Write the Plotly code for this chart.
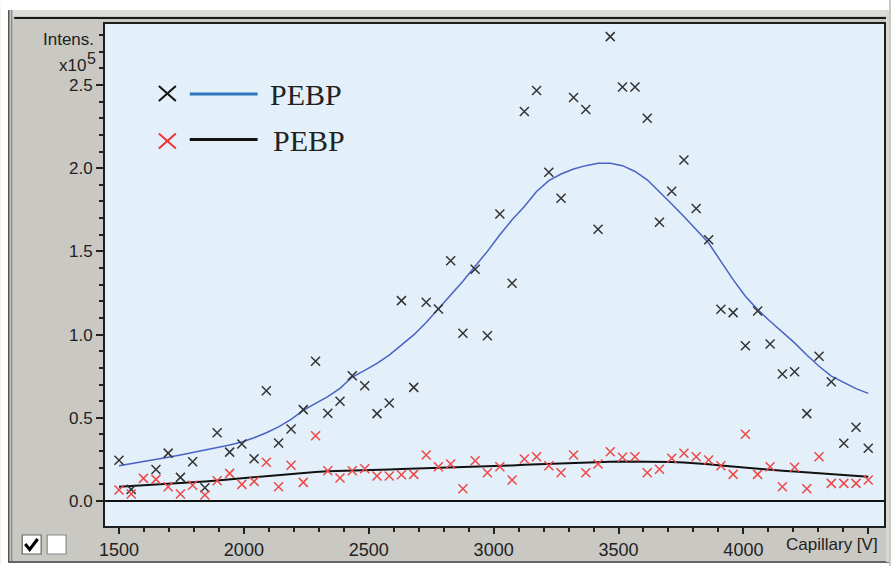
import plotly.graph_objects as go

# ---------------- data (intensity in units of 1e5) ----------------
capillary_v = [1500, 1549, 1598, 1648, 1697, 1746, 1795, 1844, 1893, 1943,
               1992, 2041, 2090, 2139, 2189, 2238, 2287, 2336, 2385, 2434,
               2484, 2533, 2582, 2631, 2680, 2730, 2779, 2828, 2877, 2926,
               2975, 3025, 3074, 3123, 3172, 3221, 3270, 3320, 3369, 3418,
               3467, 3516, 3566, 3615, 3664, 3713, 3762, 3811, 3861, 3910,
               3959, 4008, 4057, 4107, 4156, 4205, 4254, 4303, 4352, 4402,
               4451, 4500]

pebp_black = [0.245, 0.070, None, 0.190, 0.288, 0.142, 0.236, 0.080, 0.410, 0.294,
              0.343, 0.254, 0.663, 0.349, 0.433, 0.549, 0.840, 0.527, 0.599, 0.753,
              0.693, 0.525, 0.589, 1.204, 0.683, 1.194, 1.154, 1.444, 1.008, 1.392,
              0.993, 1.725, 1.308, 2.340, 2.466, 1.975, 1.819, 2.424, 2.352, 1.633,
              2.790, 2.488, 2.488, 2.300, 1.675, 1.861, 2.049, 1.757, 1.570, 1.152,
              1.132, 0.933, 1.142, 0.944, 0.763, 0.777, 0.525, 0.870, 0.717, 0.347,
              0.443, 0.317]

pebp_red = [0.066, 0.042, 0.136, 0.130, 0.086, 0.042, 0.095, 0.036, 0.122, 0.166,
            0.100, 0.118, 0.233, 0.086, 0.215, 0.112, 0.392, 0.182, 0.138, 0.182,
            0.194, 0.150, 0.150, 0.158, 0.160, 0.276, 0.206, 0.222, 0.074, 0.242,
            0.170, 0.206, 0.126, 0.252, 0.266, 0.212, 0.170, 0.276, 0.170, 0.222,
            0.296, 0.263, 0.266, 0.170, 0.191, 0.257, 0.287, 0.266, 0.246, 0.212,
            0.160, 0.401, 0.160, 0.206, 0.086, 0.203, 0.074, 0.266, 0.106, 0.106,
            0.106, 0.126]

fit_black_series = [0.212, 0.224, 0.236, 0.249, 0.263, 0.277, 0.291, 0.306, 0.321, 0.337,
                    0.355, 0.380, 0.410, 0.445, 0.490, 0.545, 0.587, 0.627, 0.677, 0.745,
                    0.785, 0.827, 0.877, 0.937, 0.998, 1.072, 1.154, 1.235, 1.320, 1.410,
                    1.500, 1.600, 1.690, 1.770, 1.860, 1.925, 1.965, 1.995, 2.015, 2.029,
                    2.029, 2.015, 1.980, 1.930, 1.860, 1.785, 1.710, 1.630, 1.550, 1.440,
                    1.330, 1.230, 1.150, 1.080, 1.015, 0.950, 0.877, 0.810, 0.750, 0.710,
                    0.675, 0.647]

fit_red_series = [0.086, 0.090, 0.094, 0.098, 0.103, 0.108, 0.113, 0.118, 0.124, 0.131,
                  0.138, 0.145, 0.152, 0.158, 0.164, 0.170, 0.175, 0.179, 0.182, 0.184,
                  0.186, 0.188, 0.190, 0.192, 0.194, 0.196, 0.198, 0.200, 0.202, 0.204,
                  0.207, 0.210, 0.214, 0.218, 0.221, 0.224, 0.227, 0.230, 0.233, 0.235,
                  0.236, 0.237, 0.237, 0.237, 0.236, 0.234, 0.231, 0.227, 0.221, 0.214,
                  0.207, 0.200, 0.194, 0.188, 0.182, 0.177, 0.172, 0.166, 0.160, 0.154,
                  0.149, 0.146]

x_tick_vals = [1500, 2000, 2500, 3000, 3500, 4000, 4500]
x_tick_text = ["1500", "2000", "2500", "3000", "3500", "4000", " "]
y_tick_vals = [0.0, 0.5, 1.0, 1.5, 2.0, 2.5]
y_tick_text = ["0.0", "0.5", "1.0", "1.5", "2.0", "2.5"]
legend_label = "PEBP"

# ---------------- layout geometry ----------------
W, H = 891, 566
ML, MR, MT, MB = 105, 5, 24, 40
PW, PH = W - ML - MR, H - MT - MB

def px(x):
    return (x - ML) / PW

def py(y):
    return (H - MB - y) / PH

GRAY = "#c9c8c3"
INK = "#222222"
SANS = "Liberation Sans, Arial, sans-serif"

fig = go.Figure()

fig.add_trace(go.Scatter(x=capillary_v, y=fit_black_series, mode="lines",
                         line=dict(color="#4a62c4", width=1.5), hoverinfo="skip"))
fig.add_trace(go.Scatter(x=capillary_v, y=fit_red_series, mode="lines",
                         line=dict(color="#111111", width=2), hoverinfo="skip"))
fig.add_trace(go.Scatter(x=capillary_v, y=pebp_black, mode="markers",
                         marker=dict(symbol="x-thin", size=9, color="#333333",
                                     line=dict(color="#333333", width=1.5))))
fig.add_trace(go.Scatter(x=capillary_v, y=pebp_red, mode="markers",
                         marker=dict(symbol="x-thin", size=9, color="#ee4848",
                                     line=dict(color="#ee4848", width=1.5))))

shapes = []

def rect(x0, y0, x1, y1, fill, line_color=None, lw=0):
    shapes.append(dict(type="rect", xref="paper", yref="paper",
                       x0=px(x0), x1=px(x1), y0=py(y1), y1=py(y0),
                       fillcolor=fill, line=dict(color=line_color or fill, width=lw),
                       layer="above"))

def seg(x0, y0, x1, y1, color, lw):
    shapes.append(dict(type="line", xref="paper", yref="paper",
                       x0=px(x0), x1=px(x1), y0=py(y0), y1=py(y1),
                       line=dict(color=color, width=lw), layer="above"))

# white page edges around the grey window panel
rect(0, 0, 8, H, "white")
rect(0, 0, W, 10, "white")
rect(0, 563, W, H, "white")
# window frame lines
rect(12, 10, W, 16, "#dddcd8")
seg(14, 18, W, 18, "#1a1a1a", 2)
seg(8.5, 10, 8.5, 562, "#555555", 1.5)
seg(11.5, 10, 11.5, 562, "#777777", 1)
seg(8, 562, W, 562, "#444444", 1.5)
rect(888, 10, W, 562, "#d8d7d3")

# checkboxes
rect(22, 535, 41, 554, "white", "#666666", 1.2)
shapes.append(dict(type="path", xref="paper", yref="paper",
                   path="M {:.5f},{:.5f} L {:.5f},{:.5f} L {:.5f},{:.5f}".format(
                       px(25), py(544), px(29.5), py(549.5), px(37.5), py(539)),
                   line=dict(color="black", width=3), layer="above"))
rect(47, 535, 66, 554, "white", "#888888", 1.2)

# legend symbols
seg(159, 86, 176, 101, "#111111", 2)
seg(159, 101, 176, 86, "#111111", 2)
seg(159, 133.5, 176, 148.5, "#ee3333", 2)
seg(159, 148.5, 176, 133.5, "#ee3333", 2)
seg(190, 94, 258, 94, "#2e73bf", 3)
seg(190, 139.5, 258, 139.5, "#111111", 3)

annotations = [
    dict(text=legend_label, x=px(268), y=py(95), xref="paper", yref="paper",
         xanchor="left", yanchor="middle", showarrow=False,
         font=dict(family="Liberation Serif, Times New Roman, serif", size=30, color=INK)),
    dict(text=legend_label, x=px(271), y=py(140), xref="paper", yref="paper",
         xanchor="left", yanchor="middle", showarrow=False,
         font=dict(family="Liberation Serif, Times New Roman, serif", size=30, color=INK)),
    dict(text="Intens.", x=px(96), y=py(40), xref="paper", yref="paper",
         xanchor="right", yanchor="middle", showarrow=False,
         font=dict(family=SANS, size=17, color=INK)),
    dict(text="x10", x=px(88), y=py(65), xref="paper", yref="paper",
         xanchor="right", yanchor="middle", showarrow=False,
         font=dict(family=SANS, size=17, color=INK)),
    dict(text="5", x=px(85), y=py(58), xref="paper", yref="paper",
         xanchor="left", yanchor="middle", showarrow=False,
         font=dict(family=SANS, size=16, color=INK)),
    dict(text="Capillary [V]", x=px(882), y=py(544), xref="paper", yref="paper",
         xanchor="right", yanchor="middle", showarrow=False,
         font=dict(family=SANS, size=17, color=INK)),
]

fig.update_layout(
    width=W, height=H,
    margin=dict(l=ML, r=MR, t=MT, b=MB, pad=0),
    paper_bgcolor=GRAY, plot_bgcolor="#e3f0f9",
    showlegend=False,
    shapes=shapes, annotations=annotations,
    xaxis=dict(range=[1444, 4563], tickmode="array", tickvals=x_tick_vals,
               ticktext=x_tick_text, ticks="outside", ticklen=6, tickwidth=1.5,
               tickcolor=INK, showgrid=False, zeroline=False,
               showline=True, linecolor="#1e1e1e", linewidth=2, mirror=True,
               tickfont=dict(family=SANS, size=18, color=INK),
               minor=dict(tickmode="linear", tick0=1500, dtick=100, ticks="outside",
                          ticklen=4, tickwidth=1.5, tickcolor=INK, showgrid=False)),
    yaxis=dict(range=[-0.150, 2.866], tickmode="array", tickvals=y_tick_vals,
               ticktext=y_tick_text, ticks="outside", ticklen=7, tickwidth=1.5,
               tickcolor=INK, showgrid=False,
               zeroline=True, zerolinecolor="#111111", zerolinewidth=2,
               showline=True, linecolor="#1e1e1e", linewidth=2, mirror=True,
               tickfont=dict(family=SANS, size=17, color=INK),
               minor=dict(tickmode="array",
                          tickvals=[round(0.1 * i, 1) for i in range(1, 29)],
                          ticks="outside", ticklen=4, tickwidth=1.5,
                          tickcolor=INK, showgrid=False)),
)

fig.write_html(
    "out.html",
    config={"displayModeBar": False},
    post_script="document.body.style.margin='0';document.body.style.padding='0';"
                "document.body.style.overflow='hidden';",
)
